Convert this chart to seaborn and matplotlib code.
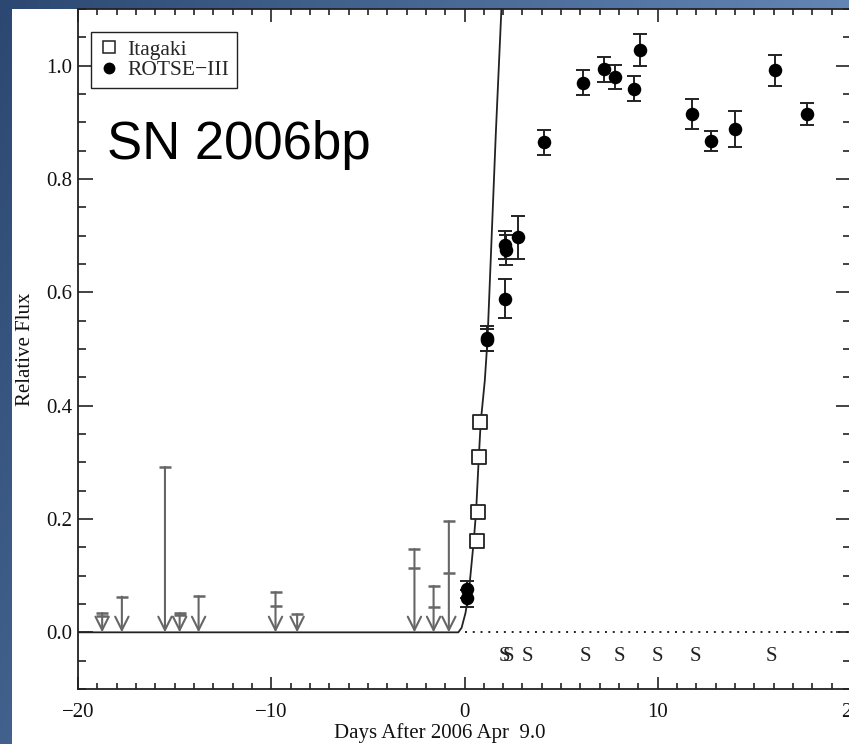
import numpy as np
import pandas as pd
import matplotlib
matplotlib.use("Agg")
import matplotlib.pyplot as plt
import seaborn as sns
from matplotlib.patches import Rectangle
from matplotlib.ticker import MultipleLocator
from matplotlib.lines import Line2D

# ---------------- data ----------------
itagaki_day = [0.67, 0.70, 0.76, 0.81]
itagaki_flux = [0.162, 0.213, 0.309, 0.371]

rotse_day = [0.15, 0.15, 1.17, 1.19, 2.08, 2.10, 2.14, 2.75, 4.11, 6.13,
             7.20, 7.78, 8.76, 9.09, 11.79, 12.75, 14.02, 16.05, 17.71]
rotse_flux = [0.076, 0.060, 0.519, 0.516, 0.589, 0.683, 0.675, 0.697, 0.865, 0.970,
              0.994, 0.980, 0.959, 1.028, 0.915, 0.867, 0.888, 0.992, 0.915]
rotse_err = [0.015, 0.015, 0.022, 0.019, 0.035, 0.025, 0.027, 0.038, 0.022, 0.022,
             0.022, 0.021, 0.022, 0.028, 0.026, 0.018, 0.032, 0.027, 0.019]

ul_day = [-18.75, -17.73, -15.50, -14.74, -13.76, -9.78, -8.66, -2.59, -1.60, -0.81]
ul_top = [0.034, 0.063, 0.292, 0.034, 0.064, 0.071, 0.032, 0.147, 0.082, 0.196]
ul_mid = [0.029, np.nan, np.nan, 0.030, np.nan, 0.047, np.nan, 0.114, 0.045, 0.104]

model_day = [-20.0, -0.32, -0.15, 0.05, 0.22, 0.48, 0.60, 0.74, 0.84, 1.05, 1.19, 1.62, 1.91]
model_flux = [0.0, 0.0, 0.008, 0.034, 0.069, 0.162, 0.213, 0.309, 0.371, 0.444, 0.516, 0.88, 1.10]

zero_day = [0.0, 20.0]
zero_flux = [0.0, 0.0]

spec_day = [2.08, 2.25, 3.25, 6.24, 8.00, 9.98, 11.96, 15.90]
spec_level = -0.043

x_ticks = [-20, -10, 0, 10, 20]
y_ticks = [0.0, 0.2, 0.4, 0.6, 0.8, 1.0]

# ---------------- figure ----------------
sns.set_theme(style="ticks")
plt.rcParams["font.family"] = ["Liberation Serif", "DejaVu Serif"]
plt.rcParams["axes.unicode_minus"] = True

W, H = 849, 744
fig = plt.figure(figsize=(W / 100, H / 100), dpi=100)

# slide-like blue background
bg = fig.add_axes([0, 0, 1, 1], zorder=-10)
gx, gy = np.meshgrid(np.linspace(0, 1, 200), np.linspace(0, 1, 200))
t = np.clip(0.75 * gx + 0.30 * gy, 0, 1)
dark = np.array([0x2c, 0x48, 0x72]) / 255
light = np.array([0x74, 0x9a, 0xcb]) / 255
img = dark[None, None, :] * (1 - t[..., None]) + light[None, None, :] * t[..., None]
bg.imshow(img, extent=[0, 1, 0, 1], aspect="auto", origin="upper")
bg.add_patch(Rectangle((12 / W, 0), 1, 1 - 9 / H, facecolor="white", edgecolor="none"))
bg.set_xlim(0, 1)
bg.set_ylim(0, 1)
bg.axis("off")

ax = fig.add_axes([78 / W, 1 - 689 / H, (851 - 78) / W, (689 - 9) / H])
ax.set_facecolor("white")

ink = "#222222"
gray = "#666666"

# model curve and zero line
sns.lineplot(x=model_day, y=model_flux, ax=ax, color=ink, lw=1.3, sort=False,
             estimator=None, zorder=3)
ax.plot(zero_day, zero_flux, ls=(0, (1, 3)), color=ink, lw=1.4, zorder=2)

# upper limits
for d, top, mid in zip(ul_day, ul_top, ul_mid):
    ax.annotate("", xy=(d, 0.0), xytext=(d, top),
                arrowprops=dict(arrowstyle="->", color=gray, lw=1.5,
                                mutation_scale=24, shrinkA=0, shrinkB=0),
                zorder=2)
ax.scatter(ul_day, ul_top, marker="_", s=75, color=gray, linewidths=1.8, zorder=2)
ax.scatter(ul_day, ul_mid, marker="_", s=75, color=gray, linewidths=1.8, zorder=2)

# ROTSE-III
ax.errorbar(rotse_day, rotse_flux, yerr=rotse_err, fmt="none", ecolor=ink,
            elinewidth=1.4, capsize=5, capthick=1.4, zorder=4)
sns.scatterplot(x=rotse_day, y=rotse_flux, ax=ax, marker="o", s=95, color="black",
                edgecolor="black", linewidth=0, zorder=5)

# Itagaki
sns.scatterplot(x=itagaki_day, y=itagaki_flux, ax=ax, marker="s", s=100,
                facecolor="white", edgecolor=ink, linewidth=1.3, zorder=6)

# spectra markers
for d in spec_day:
    ax.text(d, spec_level, "S", ha="center", va="center", fontsize=15, color=ink, zorder=6)

# axes cosmetics
ax.set_xlim(-20, 20)
ax.set_ylim(-0.1, 1.1)
ax.set_xticks(x_ticks)
ax.set_yticks(y_ticks)
ax.set_yticklabels([f"{v:.1f}" for v in y_ticks])
ax.xaxis.set_minor_locator(MultipleLocator(1))
ax.yaxis.set_minor_locator(MultipleLocator(0.05))
for s in ax.spines.values():
    s.set_color(ink)
    s.set_linewidth(1.3)
ax.tick_params(axis="both", which="both", direction="in", top=True, right=True,
               colors=ink, width=1.2, labelsize=15, labelcolor="#111111")
ax.tick_params(axis="x", which="major", length=9, pad=10)
ax.tick_params(axis="x", which="minor", length=4.5)
ax.tick_params(axis="y", which="major", length=11, pad=4)
ax.tick_params(axis="y", which="minor", length=6)

ax.set_xlabel("Days After 2006 Apr  9.0", fontsize=15, color="#111111")
ax.set_ylabel("Relative Flux", fontsize=15, color="#111111")
ax.xaxis.set_label_coords(0.468, -0.050)
ax.yaxis.set_label_coords(-0.056, 0.5)

ax.text(0.0375, 0.779, "SN 2006bp", transform=ax.transAxes, fontsize=38,
        family=["Liberation Sans", "DejaVu Sans"], color="black", va="baseline", ha="left")

handles = [
    Line2D([], [], ls="none", marker="s", markersize=8, markerfacecolor="white",
           markeredgecolor=ink, markeredgewidth=1.1),
    Line2D([], [], ls="none", marker="o", markersize=7.5, markerfacecolor="black",
           markeredgecolor="black"),
]
leg = ax.legend(handles, ["Itagaki", "ROTSE\u2212III"], loc="upper left",
                bbox_to_anchor=((91 - 78) / 773, (689 - 32) / 680), borderaxespad=0,
                fontsize=15.5, frameon=True, fancybox=False, framealpha=1,
                edgecolor=ink, handlelength=1.0, handletextpad=0.35,
                borderpad=0.35, labelspacing=0.02)
leg.get_frame().set_linewidth(1.0)

fig.savefig("out.png", dpi=100)
